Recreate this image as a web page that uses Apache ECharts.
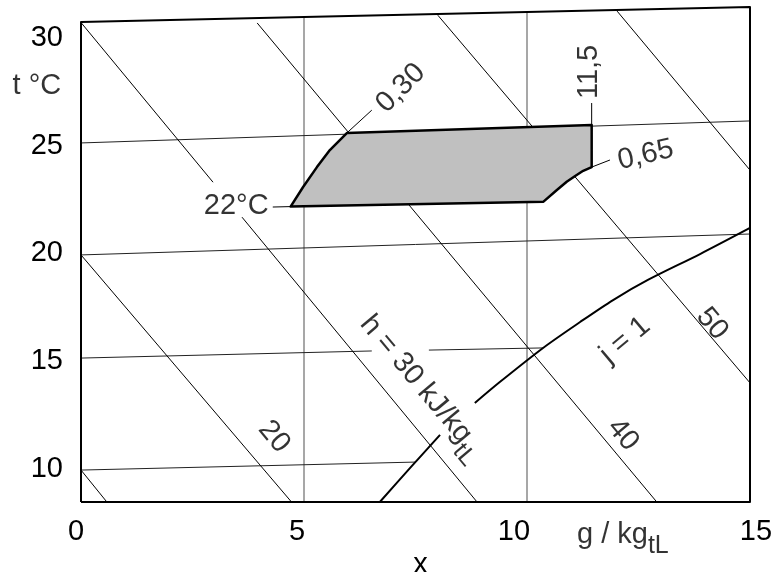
<!DOCTYPE html>
<html><head><meta charset="utf-8">
<script src="https://cdn.jsdelivr.net/npm/echarts@6/dist/echarts.min.js"></script>
<style>html,body{margin:0;padding:0;background:#fff}#c{width:771px;height:572px}</style>
</head><body><div id="c"></div>
<script>
const FONT = '"Liberation Sans", Arial, sans-serif';
const FS = 29;
// axis ranges (x in g/kg, vertical in °C read at x = 0)
const xRange = [0, 15];
const tRange = [8.48, 31.42];
const xTicks = [0, 5, 10, 15];
const tTicks = [10, 15, 20, 25, 30];

// chart frame (slanted top edge)
const frameLine = [[0, 8.48], [0, 30.72], [15, 31.42], [15, 8.48], [0, 8.48]];
// vertical grid lines x = 5, x = 10
const gridX5 = [[5, 8.48], [5, 30.95]];
const gridX10 = [[10, 8.48], [10, 31.19]];
// isotherms
const iso25 = [[0, 25.12], [15, 26.14]];
const iso20 = [[0, 19.93], [15, 20.90]];
const iso15a = [[0, 15.15], [6.52, 15.48]];
const iso15b = [[7.80, 15.52], [10.36, 15.62]];
const iso10 = [[0, 9.96], [7.49, 10.33]];
// isenthalps h = 10 ... 60 kJ/kg
const h10 = [[0, 9.96], [0.58, 8.48]];
const h20 = [[0, 19.93], [4.72, 8.48]];
const h30a = [[0, 30.70], [2.96, 23.30]];
const h30b = [[3.61, 21.68], [8.88, 8.48]];
const h40 = [[3.95, 30.68], [12.91, 8.48]];
const h50 = [[8.00, 31.04], [15, 14.00]];
const h60 = [[12.02, 31.23], [15, 23.86]];
// saturation curve j = 1
const satA = [[6.70, 8.48], [7.38, 10.06], [8.05, 11.59]];
const satB = [[8.83, 13.07], [9.39, 14.04], [10.36, 15.62], [11.19, 16.82], [11.93, 17.84], [12.71, 18.77], [13.88, 19.97], [15, 21.18]];
// comfort region
const regionX = [4.70, 4.98, 5.29, 5.58, 5.96, 11.45, 11.45, 11.26, 11.08, 10.89, 10.67, 10.37];
const regionT = [22.17, 23.08, 24.00, 24.79, 25.58, 25.95, 24.00, 23.83, 23.59, 23.32, 22.94, 22.40];
// leader lines
const lead22 = [[4.30, 22.15], [4.70, 22.17]];
const lead030 = [[5.96, 25.58], [6.52, 26.64]];
const lead115 = [[11.45, 25.95], [11.45, 26.97]];
const lead065 = [[11.45, 24.00], [11.86, 24.33]];
// annotation texts
const annText = ['22°C', '0,30', '11,5', '0,65', '{m|h = 30 kJ/kg}{s|tL}', '20', '40', '50', 'j = 1', 't °C', '{m|g / kg}{s|tL}'];
const annX = [3.48, 7.17, 11.39, 12.66, 7.66, 4.33, 12.15, 14.15, 12.20, -0.99, 11.12];
const annT = [22.20, 27.66, 28.41, 24.56, 13.80, 11.50, 11.59, 16.73, 15.98, 27.76, 6.97];
const annRot = [0, 45, 90, 13, -50, -50, -50, -50, 40, 0, 0];
const annAlign = ['center', 'center', 'center', 'center', 'center', 'center', 'center', 'center', 'center', 'center', 'left'];
// horizontal nudge of x tick labels as printed (px, negative = left)
const xTickShift = [-5, -7, -13, 6];

function seg(data, width, color, z, smooth) {
  return { type: 'line', data: data, showSymbol: false, symbol: 'none', clip: false, silent: true,
    smooth: smooth || false, z: z || 2,
    lineStyle: { width: width, color: color, cap: 'butt', join: 'round' } };
}

const rich = {
  m: { fontSize: FS, lineHeight: FS, verticalAlign: 'top', fontFamily: FONT, color: '#000' },
  s: { fontSize: 25, lineHeight: 25, padding: [14, 0, 0, 0], verticalAlign: 'top', fontFamily: FONT, color: '#000' }
};

const xRich = {};
xTicks.forEach(function (v, i) {
  const s = xTickShift[i];
  xRich['t' + i] = { fontSize: FS, fontFamily: FONT, color: '#000',
    padding: s < 0 ? [0, -2 * s, 0, 0] : [0, 0, 0, 2 * s] };
});

const series = [
  seg(gridX5, 1.5, '#8a8a8a', 1), seg(gridX10, 1.5, '#8a8a8a', 1),
  seg(iso25, 1, '#222', 2), seg(iso20, 1, '#222', 2), seg(iso15a, 1, '#222', 2), seg(iso15b, 1, '#222', 2), seg(iso10, 1, '#222', 2),
  seg(h10, 1, '#000', 2), seg(h20, 1, '#000', 2), seg(h30a, 1, '#000', 2), seg(h30b, 1, '#000', 2),
  seg(h40, 1, '#000', 2), seg(h50, 1, '#000', 2), seg(h60, 1, '#000', 2),
  seg(satA, 2, '#000', 3, 0.3), seg(satB, 2, '#000', 3, 0.3),
  seg(lead22, 1, '#000', 3), seg(lead030, 1, '#000', 3), seg(lead115, 1, '#000', 3), seg(lead065, 1, '#000', 3),
  {
    type: 'custom', coordinateSystem: 'cartesian2d', silent: true, clip: false, z: 5,
    data: [[regionX[0], regionT[0]]],
    renderItem: function (params, api) {
      const pts = regionX.map(function (x, i) { return api.coord([x, regionT[i]]); });
      return { type: 'polygon', shape: { points: pts },
        style: { fill: '#c0c0c0', stroke: '#000', lineWidth: 2.5, lineJoin: 'round' } };
    }
  },
  seg(frameLine, 2, '#000', 6),
  {
    type: 'scatter', silent: true, clip: false, z: 10, symbolSize: 1,
    itemStyle: { color: 'rgba(0,0,0,0)' },
    data: annText.map(function (t, i) {
      return { value: [annX[i], annT[i]],
        label: { show: true, position: 'inside', formatter: t, rotate: annRot[i], align: annAlign[i],
          verticalAlign: 'middle', fontSize: FS, fontFamily: FONT, color: '#000', rich: rich } };
    })
  }
];

const chart = echarts.init(document.getElementById('c'), null, { renderer: 'canvas' });
chart.setOption({
  animation: false,
  backgroundColor: '#fff',
  grid: { left: 81, right: 21, top: 7, bottom: 70, containLabel: false, outerBoundsMode: 'none' },
  xAxis: {
    type: 'value', min: xRange[0], max: xRange[1], interval: 5,
    axisLine: { show: false }, axisTick: { show: false }, splitLine: { show: false },
    axisLabel: { customValues: xTicks, fontSize: FS, fontFamily: FONT, color: '#000', margin: 15,
      formatter: function (v) { const i = xTicks.indexOf(v); return '{t' + i + '|' + v + '}'; },
      rich: xRich },
    name: 'x', nameLocation: 'middle', nameGap: 33,
    nameTextStyle: { fontSize: FS, fontFamily: FONT, color: '#000', padding: [0, 0, 0, 10] }
  },
  yAxis: {
    type: 'value', min: tRange[0], max: tRange[1],
    axisLine: { show: false }, axisTick: { show: false }, splitLine: { show: false },
    axisLabel: { customValues: tTicks, fontSize: FS, fontFamily: FONT, color: '#000', margin: 18 }
  },
  series: series
});
</script></body></html>
